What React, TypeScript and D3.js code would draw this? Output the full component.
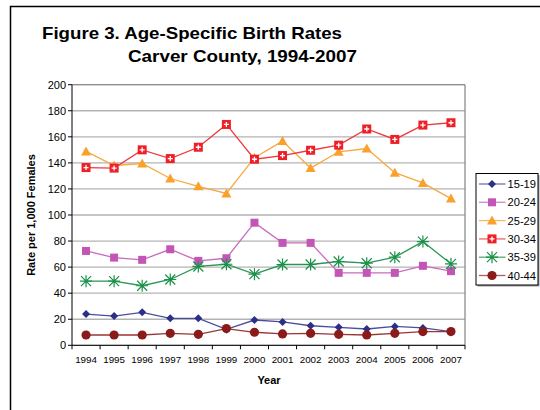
import React from "react";
import * as d3 from "d3";

const years = ["1994","1995","1996","1997","1998","1999","2000","2001","2002","2003","2004","2005","2006","2007"];
const yTicks = [0, 20, 40, 60, 80, 100, 120, 140, 160, 180, 200];

const s1519 = [24, 22.4, 25.3, 20.7, 20.7, 12.2, 19.4, 17.9, 15, 13.8, 12.5, 14.5, 13.3, 10.5];
const s2024 = [72.4, 67.3, 65.6, 73.7, 64.8, 66.8, 94.1, 78.6, 78.6, 55.6, 55.6, 55.6, 61, 56.9];
const s2529 = [148.8, 138, 139.5, 128, 122, 116.5, 144, 156.7, 136, 148.5, 151, 132.5, 124.6, 112.6];
const s3034 = [136.4, 136, 150, 143.3, 152, 169.5, 142.8, 145.6, 149.7, 153.6, 166, 158, 169, 170.8];
const s3539 = [49.2, 49.2, 45.7, 50.5, 60.5, 62.2, 54.6, 62, 62, 64.3, 63, 67.6, 79.6, 62.5];
const s4044 = [7.9, 7.9, 7.9, 9.2, 8.4, 12.8, 10, 8.7, 9.2, 8.4, 7.9, 9.2, 10.5, 10.5];

const seriesNames = ["15-19", "20-24", "25-29", "30-34", "35-39", "40-44"];
const seriesValues = [s1519, s2024, s2529, s3034, s3539, s4044];
const seriesColors = ["#2B2F87", "#C255B5", "#F9A12B", "#EE2027", "#1A9149", "#8B1A1A"];
const lineColors = ["#4A4E9C", "#C96BBE", "#F8A83E", "#EE3A3F", "#2A9656", "#9A3535"];
const markers = ["diamond", "square", "triangle", "plus", "star", "circle"];

const M = { left: 72, right: 465, top: 84.7, bottom: 345.3 };

function Marker({ kind, x, y, color }: { kind: string; x: number; y: number; color: string }) {
  switch (kind) {
    case "diamond":
      return <path d={`M${x},${y - 4}L${x + 4},${y}L${x},${y + 4}L${x - 4},${y}Z`} fill={color} />;
    case "square":
      return <rect x={x - 4} y={y - 4} width={8} height={8} fill={color} />;
    case "triangle":
      return <path d={`M${x},${y - 5}L${x + 5},${y + 4}L${x - 5},${y + 4}Z`} fill={color} />;
    case "plus":
      return (
        <g>
          <rect x={x - 4.5} y={y - 4.5} width={9} height={9} fill={color} />
          <path d={`M${x - 2.5},${y}H${x + 2.5}M${x},${y - 2.5}V${y + 2.5}`} stroke="#fff" strokeWidth={1.3} />
        </g>
      );
    case "star":
      return (
        <path
          d={`M${x - 5},${y - 5}L${x + 5},${y + 5}M${x - 5},${y + 5}L${x + 5},${y - 5}M${x},${y - 6}V${y + 6}M${x - 6},${y}H${x + 6}`}
          stroke={color}
          strokeWidth={1.2}
        />
      );
    default:
      return <circle cx={x} cy={y} r={4.6} fill={color} />;
  }
}

export default function App() {
  const x = d3.scaleBand<string>().domain(years).range([M.left, M.right]);
  const y = d3.scaleLinear().domain([0, 200]).range([M.bottom, M.top]);
  const cx = (yr: string) => (x(yr) as number) + x.bandwidth() / 2;
  const line = d3
    .line<number>()
    .x((_, i) => cx(years[i]))
    .y((v) => y(v));

  const legX = 476, legY = 173.5, legW = 62, legH = 111.5;
  const font = "Liberation Sans, Arial, sans-serif";

  return (
    <div style={{ position: "absolute", left: 0, top: 0 }}>
      <svg width={540} height={410} style={{ display: "block", fontFamily: font }}>
        <rect x={0} y={0} width={540} height={410} fill="#fff" />
        <rect x={10.5} y={6.5} width={600} height={500} fill="none" stroke="#000" strokeWidth={1.5} />
        <text x={42} y={39} fontSize={17} fontWeight="bold" fill="#000" textLength={300} lengthAdjust="spacingAndGlyphs">Figure 3. Age-Specific Birth Rates</text>
        <text x={128} y={62} fontSize={17} fontWeight="bold" fill="#000" textLength={229} lengthAdjust="spacingAndGlyphs">Carver County, 1994-2007</text>

        {/* gridlines */}
        {yTicks.map((t) => (
          <line key={t} x1={M.left} x2={M.right} y1={y(t)} y2={y(t)} stroke="#B3B3B3" strokeWidth={1.3} />
        ))}
        <line x1={M.right} x2={M.right} y1={M.top} y2={M.bottom} stroke="#8C8C8C" strokeWidth={1.3} />
        <line x1={M.left} x2={M.right} y1={M.top} y2={M.top} stroke="#8C8C8C" strokeWidth={1.3} />
        {/* y axis */}
        <line x1={M.left} x2={M.left} y1={M.top} y2={M.bottom} stroke="#000" strokeWidth={1} />
        {yTicks.map((t) => (
          <g key={"yt" + t}>
            <line x1={M.left - 4} x2={M.left} y1={y(t)} y2={y(t)} stroke="#000" />
            <text x={M.left - 6} y={y(t)} dy="0.35em" textAnchor="end" fontSize={11} fill="#000">{t}</text>
          </g>
        ))}
        {/* x axis */}
        <line x1={M.left} x2={M.right} y1={M.bottom} y2={M.bottom} stroke="#000" strokeWidth={1} />
        {years.map((yr) => (
          <line key={"xt" + yr} x1={x(yr) as number} x2={x(yr) as number} y1={M.bottom} y2={M.bottom + 4} stroke="#000" />
        ))}
        <line x1={M.right} x2={M.right} y1={M.bottom} y2={M.bottom + 4} stroke="#000" />
        {years.map((yr) => (
          <text key={"xl" + yr} x={cx(yr)} y={359.5} dy="0.35em" textAnchor="middle" fontSize={9.8} fill="#000">{yr}</text>
        ))}
        <text x={269} y={380} dy="0.35em" textAnchor="middle" fontSize={11} fontWeight="bold">Year</text>
        <text
          transform={`translate(31,${(M.top + M.bottom) / 2}) rotate(-90)`}
          textAnchor="middle"
          dy="0.35em"
          fontSize={11}
          fontWeight="bold"
        >
          Rate per 1,000 Females
        </text>

        {/* series */}
        {seriesValues.map((vals, si) => (
          <g key={seriesNames[si]}>
            <path d={line(vals) || ""} fill="none" stroke={lineColors[si]} strokeWidth={1.3} />
            {vals.map((v, i) => (
              <Marker key={i} kind={markers[si]} x={cx(years[i])} y={y(v)} color={seriesColors[si]} />
            ))}
          </g>
        ))}

        {/* legend */}
        <rect x={legX + 1.5} y={legY + 1.5} width={legW} height={legH} fill="#9A9A9A" />
        <rect x={legX} y={legY} width={legW} height={legH} fill="#fff" stroke="#000" strokeWidth={1} />
        {seriesNames.map((n, i) => {
          const ly = 184 + i * 18.3;
          return (
            <g key={"lg" + n}>
              <line x1={479} x2={505.5} y1={ly} y2={ly} stroke={lineColors[i]} strokeWidth={1.3} opacity={0.8} />
              <Marker kind={markers[i]} x={492} y={ly} color={seriesColors[i]} />
              <text x={507.5} y={ly} dy="0.35em" fontSize={11.5} fill="#000" textLength={28.5} lengthAdjust="spacingAndGlyphs">{n}</text>
            </g>
          );
        })}
      </svg>
    </div>
  );
}
